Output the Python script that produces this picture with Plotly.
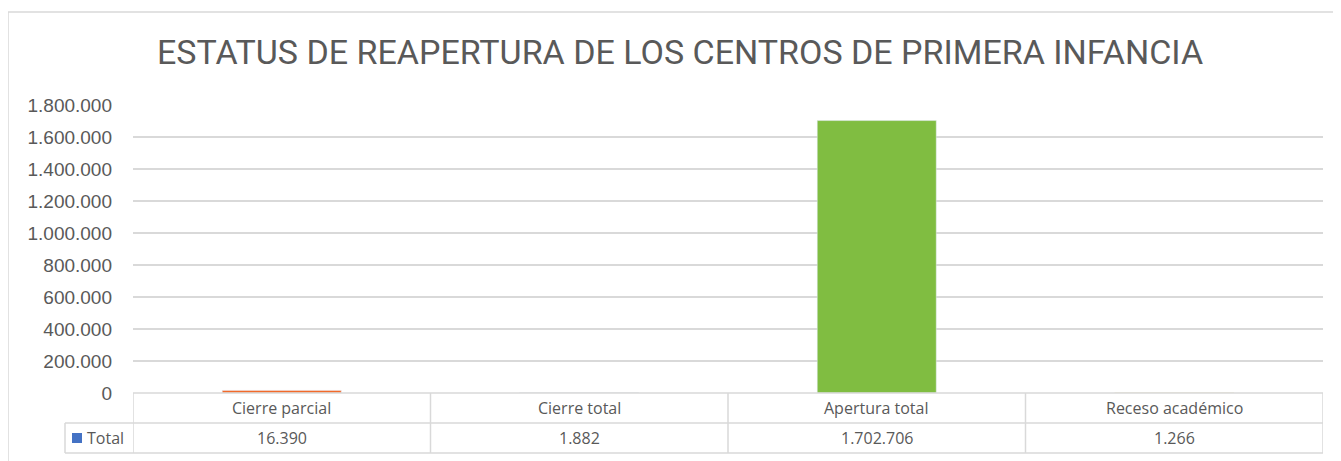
import plotly.graph_objects as go

categories = ["Cierre parcial", "Cierre total", "Apertura total", "Receso académico"]
values = [16390, 1882, 1702706, 1266]
value_labels = ["16.390", "1.882", "1.702.706", "1.266"]
series_name = "Total"
bar_colors = ["#F26A2A", "#A5A5A5", "#80BD41", "#FFC000"]
y_ticks = [0, 200000, 400000, 600000, 800000, 1000000, 1200000, 1400000, 1600000, 1800000]
title = "ESTATUS DE REAPERTURA DE LOS CENTROS DE PRIMERA INFANCIA"

W, H = 1341, 461
OX, OY = 8, 8  # page offset of the figure
# plot area in page pixels
P_L, P_R, P_T, P_B = 133, 1323, 105, 393
L = P_L - OX
R = W - (P_R - OX)
T = P_T - OY
B = H - (P_B - OY)
pw, ph = P_R - P_L, P_B - P_T

def px_x(px):
    return (px - P_L) / pw

def px_y(py):
    return (P_B - py) / ph

fig = go.Figure()
fig.add_trace(go.Bar(x=categories, y=values, marker_color=bar_colors, width=0.4,
                     name=series_name, showlegend=False, hoverinfo="x+y"))

grid = "#D9D9D9"
txt = "#595959"
shapes = []
annotations = []

# outer chart border
shapes.append(dict(type="rect", xref="paper", yref="paper",
                   x0=px_x(8), x1=px_x(1420), y0=px_y(12), y1=px_y(540),
                   line=dict(color="#D9D9D9", width=1.5), fillcolor="rgba(0,0,0,0)", layer="below"))

# data table lines
row1, row2, row3 = 393, 423, 453
for xv in [-0.5, 0.5, 1.5, 2.5, 3.5]:
    shapes.append(dict(type="line", xref="x", yref="paper", x0=xv, x1=xv,
                       y0=px_y(row1), y1=px_y(row3), line=dict(color=grid, width=1.5)))
shapes.append(dict(type="line", xref="paper", yref="paper", x0=px_x(65), x1=px_x(65),
                   y0=px_y(row2), y1=px_y(row3), line=dict(color=grid, width=1.5)))
shapes.append(dict(type="line", xref="paper", yref="paper", x0=0, x1=1,
                   y0=px_y(row1), y1=px_y(row1), line=dict(color=grid, width=1.5)))
for ry in [row2, row3]:
    shapes.append(dict(type="line", xref="paper", yref="paper", x0=px_x(65), x1=1,
                       y0=px_y(ry), y1=px_y(ry), line=dict(color=grid, width=1.5)))
# legend key
shapes.append(dict(type="rect", xref="paper", yref="paper", x0=px_x(72), x1=px_x(82),
                   y0=px_y(443), y1=px_y(433), line=dict(width=0), fillcolor="#4472C4"))

tfont = dict(size=16, color=txt, family="Open Sans")
for c, v in zip(categories, value_labels):
    annotations.append(dict(x=c, xref="x", y=px_y((row1 + row2) / 2), yref="paper",
                            text=c, showarrow=False, font=tfont,
                            xanchor="center", yanchor="middle"))
    annotations.append(dict(x=c, xref="x", y=px_y((row2 + row3) / 2), yref="paper",
                            text=v, showarrow=False, font=tfont,
                            xanchor="center", yanchor="middle"))
annotations.append(dict(x=px_x(85), xref="paper", y=px_y((row2 + row3) / 2), yref="paper",
                        text=series_name, showarrow=False, font=tfont,
                        xanchor="left", yanchor="middle"))

fig.update_layout(
    width=W, height=H,
    margin=dict(l=L, r=R, t=T, b=B, pad=0),
    paper_bgcolor="white", plot_bgcolor="white",
    separators=",.",
    title=dict(text=title, x=(680 - OX) / W, xref="container", xanchor="center",
               y=1 - (52 - OY) / H, yref="container", yanchor="middle",
               font=dict(family="Roboto", size=34, color=txt)),
    xaxis=dict(range=[-0.5, 3.5], showticklabels=False, showgrid=False, zeroline=False,
               showline=False, ticks="", fixedrange=True),
    yaxis=dict(range=[0, 1800000], tickvals=y_ticks, tickformat=",d", showgrid=True,
               gridcolor=grid, gridwidth=1.5, zeroline=False, showline=False, ticks="",
               ticklabelstandoff=20, tickfont=dict(family="Liberation Sans", size=19, color=txt)),
    shapes=shapes, annotations=annotations, bargap=0.6,
)

fig.write_html("out.html")
